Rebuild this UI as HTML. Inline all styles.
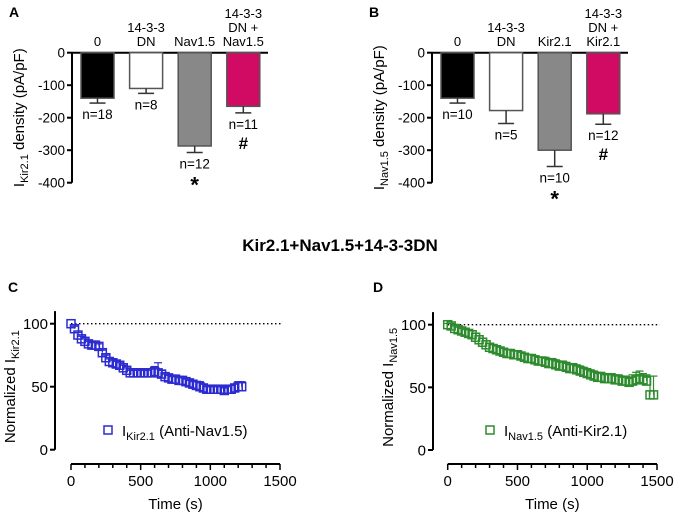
<!DOCTYPE html>
<html><head><meta charset="utf-8"><style>
html,body{margin:0;padding:0;background:#fff}
svg{display:block;font-family:"Liberation Sans",Arial,sans-serif}
</style></head><body>
<svg id="fig" width="680" height="521" viewBox="0 0 680 521"></svg>
<script>
// Panel A data
const catsA = [["0"],["14-3-3","DN"],["Nav1.5"],["14-3-3","DN +","Nav1.5"]];
const valsA = [-140,-110,-287,-165];
const errA = [15,15,20,20];
const nA = ["n=18","n=8","n=12","n=11"];
const sigA = ["","","*","#"];
// Panel B data
const catsB = [["0"],["14-3-3","DN"],["Kir2.1"],["14-3-3","DN +","Kir2.1"]];
const valsB = [-140,-178,-300,-188];
const errB = [15,40,50,32];
const nB = ["n=10","n=5","n=10","n=12"];
const sigB = ["","","*","#"];
const barColors = ["#000000","#ffffff","#888888","#d10a64"];
const yTicksBar = [0,-100,-200,-300,-400];
// Panel C data (time step 25 s)
const valsC = [100,96,91,88,86,84,83,83,82,77,73,70,69,68,67,65,63,61,61,61,61,61,61,61,62,61,60,58,57,56,56,55,55,54,53,52,51,50,49,48,48,48,48,48,47,48,48,49,50,50];
const errC = [0,2,2,2,2,2,2,2,2,2,2,2,2,2,2,2,2,2,2,2,2,2,2,3,4,8,3,2,2,2,2,2,2,2,2,2,3,4,3,2,2,2,2,2,2,2,3,3,4,4];
// Panel D data (time step 25 s)
const valsD = [100,99,97,96,95,94,93,92,90,88,86,84,82,81,80,79,78,77,77,76,76,75,74,73,73,72,71,71,70,69,69,68,67,67,66,65,65,64,63,62,61,60,59,58,58,57,57,57,56,56,55,55,54,55,56,57,56,55,44,44];
const errD = [1,2,2,2,2,2,3,3,3,3,3,3,3,3,3,3,3,3,3,3,3,3,3,3,3,3,3,3,4,4,4,4,4,4,4,4,4,4,4,4,4,4,4,4,4,4,4,4,4,4,4,4,4,5,6,6,5,5,15,15];
const xTicksT = [0,500,1000,1500];
const yTicksN = [0,50,100];
const tStep = 25;

const NS="http://www.w3.org/2000/svg";
const svg=document.getElementById('fig');
function el(tag,attrs,parent,text){const e=document.createElementNS(NS,tag);for(const k in attrs)e.setAttribute(k,attrs[k]);if(text!==undefined)e.textContent=text;(parent||svg).appendChild(e);return e;}

function barPanel(ox,letter,cats,vals,errs,ns,sigs,sub){
  const g=el('g',{});
  
  
  const ax=ox, y0=52.7, yPer=0.325;
  const ys=v=>y0-v*yPer;
  const t=el('text',{x:ox-63,y:17,'font-size':14,'font-weight':'bold'},g,letter);
  
  
  el('line',{x1:ax,y1:y0,x2:ax,y2:ys(-400),stroke:'#000','stroke-width':2},g);
  el('line',{x1:ax,y1:y0,x2:ax+196,y2:y0,stroke:'#000','stroke-width':2},g);
  yTicksBar.forEach(v=>{
    el('line',{x1:ax-5,y1:ys(v),x2:ax,y2:ys(v),stroke:'#000','stroke-width':2},g);
    const tl=el('text',{x:ax-7,y:ys(v)+5,'font-size':13.5,'text-anchor':'end'},g,String(v));
    
    
  });
  const yl=el('text',{transform:`translate(${ax-48},${ys(-200)}) rotate(-90)`,'font-size':15,'text-anchor':'middle'},g);
  
  
  el('tspan',{},yl,'I');
  el('tspan',{'font-size':11,dy:4},yl,sub);
  el('tspan',{dy:-4},yl,' density (pA/pF)');
  vals.forEach((v,i)=>{
    const bx=ax+9+i*48.6, w=33, cx=bx+w/2;
    const r=el('rect',{x:bx,y:y0,width:w,height:ys(v)-y0,fill:barColors[i],stroke:'#555','stroke-width':1.5},g);
    
    
    const ye=ys(v-errs[i]);
    el('line',{x1:cx,y1:ys(v),x2:cx,y2:ye,stroke:'#333','stroke-width':1.5},g);
    el('line',{x1:cx-8,y1:ye,x2:cx+8,y2:ye,stroke:'#333','stroke-width':1.5},g);
    const nl=el('text',{x:cx,y:ye+16,'font-size':13.5,'text-anchor':'middle'},g,ns[i]);
    
    
    if(sigs[i]){const s=el('text',{x:cx,y:ye+(sigs[i]=='*'?40:36),'font-size':sigs[i]=='*'?22:17,'font-weight':'bold','text-anchor':'middle'},g,sigs[i]);
      
      }
    const lines=cats[i];
    lines.forEach((ln,j)=>{
      const c=el('text',{x:cx,y:46-(lines.length-1-j)*14,'font-size':13,'text-anchor':'middle'},g,ln);
      
      
    });
  });
}
barPanel(72,'A',catsA,valsA,errA,nA,sigA,'Kir2.1');
barPanel(432,'B',catsB,valsB,errB,nB,sigB,'Nav1.5');

const title=el('text',{x:340,y:251,'font-size':17,'font-weight':'bold','text-anchor':'middle'},svg,'Kir2.1+Nav1.5+14-3-3DN');



function linePanel(letter,axX,lblX,x0,x1,y100,y0,vals,errs,color,sub,legSub,legTxt,legX){
  const g=el('g',{});
  
  
  const xs=t=>x0+t*(x1-x0)/1500, ys=v=>y0-v*(y0-y100)/100;
  const pl=el('text',{x:lblX,y:292,'font-size':14,'font-weight':'bold'},g,letter);
  
  
  el('line',{x1:axX,y1:ys(110),x2:axX,y2:y0,stroke:'#000','stroke-width':2},g);
  yTicksN.forEach(v=>{
    el('line',{x1:axX-5,y1:ys(v),x2:axX,y2:ys(v),stroke:'#000','stroke-width':2},g);
    const tl=el('text',{x:axX-7,y:ys(v)+5.5,'font-size':15,'text-anchor':'end'},g,String(v));
    
    
  });
  const xa=464;
  el('line',{x1:x0,y1:xa,x2:x1,y2:xa,stroke:'#000','stroke-width':2},g);
  for(let t=0;t<=1500;t+=100){const L=t%500==0?6:4;el('line',{x1:xs(t),y1:xa,x2:xs(t),y2:xa+L,stroke:'#000','stroke-width':1.5},g);}
  xTicksT.forEach(t=>{
    const tl=el('text',{x:xs(t),y:486,'font-size':15,'text-anchor':'middle'},g,String(t));
    
    
  });
  const xt=el('text',{x:xs(750),y:509,'font-size':15,'text-anchor':'middle'},g,'Time (s)');
  
  
  const yl=el('text',{transform:`translate(${axX-40},${ys(50)}) rotate(-90)`,'font-size':15,'text-anchor':'middle'},g);
  
  
  el('tspan',{},yl,'Normalized I');
  el('tspan',{'font-size':11,dy:4},yl,sub);
  const dl=el('line',{x1:x0,y1:ys(100),x2:xs(1520),y2:ys(100),stroke:'#000','stroke-width':1.3,'stroke-dasharray':'1.5,2.5'},g);
  
  
  vals.forEach((v,i)=>{
    const cx=xs(i*tStep), cy=ys(v);
    if(errs[i]>0){const ye=ys(v+errs[i]);
      el('line',{x1:cx,y1:cy,x2:cx,y2:ye,stroke:color,'stroke-width':1.2},g);
      el('line',{x1:cx-4,y1:ye,x2:cx+4,y2:ye,stroke:color,'stroke-width':1.2},g);}
    const p=el('rect',{x:cx-4,y:cy-4,width:8,height:8,fill:'none',stroke:color,'stroke-width':1.5},g);
    
    
  });
  const lg=el('g',{},g);
  
  
  el('rect',{x:legX,y:426,width:8,height:8,fill:'none',stroke:color,'stroke-width':1.5},lg);
  const lt=el('text',{x:legX+18,y:436,'font-size':15},lg);
  el('tspan',{},lt,'I');
  el('tspan',{'font-size':11,dy:4},lt,legSub);
  el('tspan',{dy:-4},lt,' '+legTxt);
}
linePanel('C',55,8,71,280,323.7,449.7,valsC,errC,'#2b2bd0','Kir2.1','Kir2.1','(Anti-Nav1.5)',104);
linePanel('D',433,373,447.7,657,324.7,450,valsD,errD,'#2e8b2e','Nav1.5','Nav1.5','(Anti-Kir2.1)',486);
</script>
</body></html>
